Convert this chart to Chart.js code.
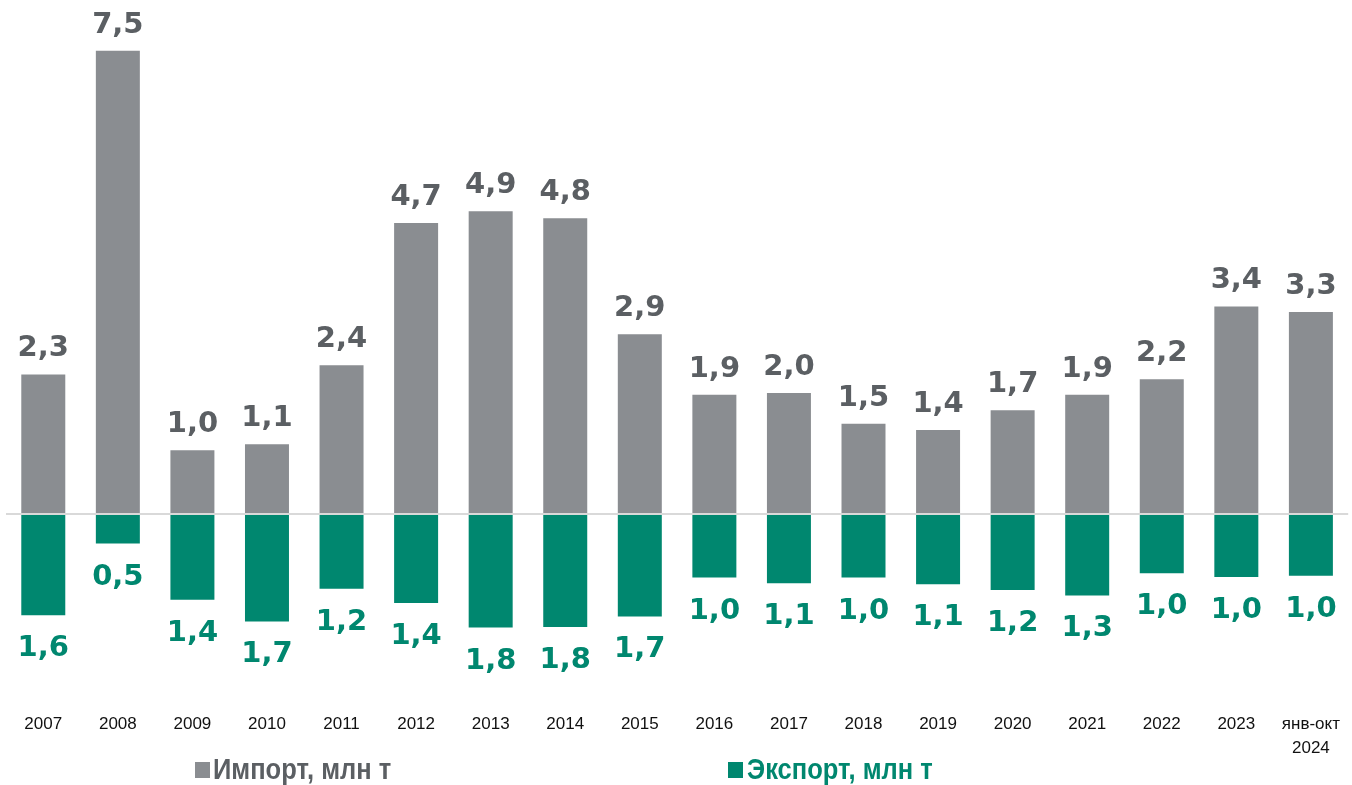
<!DOCTYPE html>
<html>
<head>
<meta charset="utf-8">
<script src="https://cdn.jsdelivr.net/npm/chart.js@4.4.1/dist/chart.umd.min.js"></script>
<style>
  body { margin: 0; background: #fff; }
  .wrap { position: relative; width: 1352px; height: 785px; }
  .box { position: absolute; top: 762px; width: 15px; height: 16px; }
  .legend-text {
    position: absolute; top: 752px; height: 34px;
    font: bold 30px "Liberation Sans", Arial, sans-serif;
    line-height: 34px; white-space: nowrap;
    transform: scaleX(0.85); transform-origin: left center;
  }
</style>
</head>
<body>
<div class="wrap">
  <canvas id="tradeChart" width="1352" height="785"></canvas>
  <div class="box" style="left:195px; background:#8a8d91"></div>
  <div class="legend-text" style="left:213px; color:#5b5f63">Импорт, млн т</div>
  <div class="box" style="left:728px; background:#00876f"></div>
  <div class="legend-text" style="left:747px; color:#00876f">Экспорт, млн т</div>
</div>
<script>
// years on the x axis, the last one is a partial year
const years = ['2007', '2008', '2009', '2010', '2011', '2012', '2013', '2014', '2015',
  '2016', '2017', '2018', '2019', '2020', '2021', '2022', '2023', ['янв-окт', '2024']];

// million tonnes
const importValues = [2.26, 7.50, 1.03, 1.13, 2.41, 4.71, 4.90, 4.79, 2.91,
  1.93, 1.96, 1.46, 1.36, 1.68, 1.93, 2.18, 3.36, 3.27];
const exportValues = [1.64, 0.48, 1.39, 1.74, 1.21, 1.44, 1.84, 1.83, 1.66,
  1.03, 1.12, 1.03, 1.14, 1.23, 1.32, 0.96, 1.02, 1.00];

const GRAY = '#8a8d91';
const TEAL = '#00876f';

// draws the numbers above (import) and below (export) each bar
const valueLabels = {
  id: 'valueLabels',
  afterDatasetsDraw(chart) {
    const ctx = chart.ctx;
    ctx.save();
    ctx.font = 'bold 29px "DejaVu Sans", Verdana, sans-serif';
    ctx.textAlign = 'center';
    ctx.textBaseline = 'alphabetic';
    chart.data.datasets.forEach((ds, i) => {
      const meta = chart.getDatasetMeta(i);
      meta.data.forEach((bar, j) => {
        const v = ds.data[j];
        const txt = Math.abs(v).toFixed(1).replace('.', ',');
        ctx.fillStyle = ds.labelColor;
        ctx.fillText(txt, bar.x, v >= 0 ? bar.y - 18 : bar.y + 41);
      });
    });
    ctx.restore();
  }
};

new Chart(document.getElementById('tradeChart'), {
  type: 'bar',
  data: {
    labels: years,
    datasets: [{
      label: 'Импорт, млн т',
      data: importValues,
      backgroundColor: GRAY,
      labelColor: '#5b5f63',
    }, {
      label: 'Экспорт, млн т',
      data: exportValues.map(v => -v),
      backgroundColor: TEAL,
      labelColor: TEAL,
    }]
  },
  options: {
    responsive: false,
    animation: false,
    devicePixelRatio: 1,
    layout: { padding: { left: 6, right: 1, top: 2, bottom: 13 } },
    datasets: { bar: { categoryPercentage: 1, barPercentage: 0.59 } },
    plugins: {
      legend: { display: false },
      tooltip: { enabled: false },
    },
    scales: {
      x: {
        stacked: true,
        grid: { display: false, drawTicks: false },
        border: { display: false },
        ticks: {
          autoSkip: false,
          maxRotation: 0,
          padding: 12,
          color: '#111',
          font: { family: '"Liberation Sans", Arial, sans-serif', size: 17, lineHeight: 1.38 },
        },
      },
      y: {
        stacked: true,
        min: -3.03,
        max: 8.29,
        ticks: { display: false, stepSize: 1 },
        border: { display: false },
        grid: {
          drawTicks: false,
          lineWidth: 2,
          color: c => (c.tick && c.tick.value === 0 ? '#d9d9d9' : 'rgba(0,0,0,0)'),
        },
      },
    },
  },
  plugins: [valueLabels],
});
</script>
</body>
</html>
